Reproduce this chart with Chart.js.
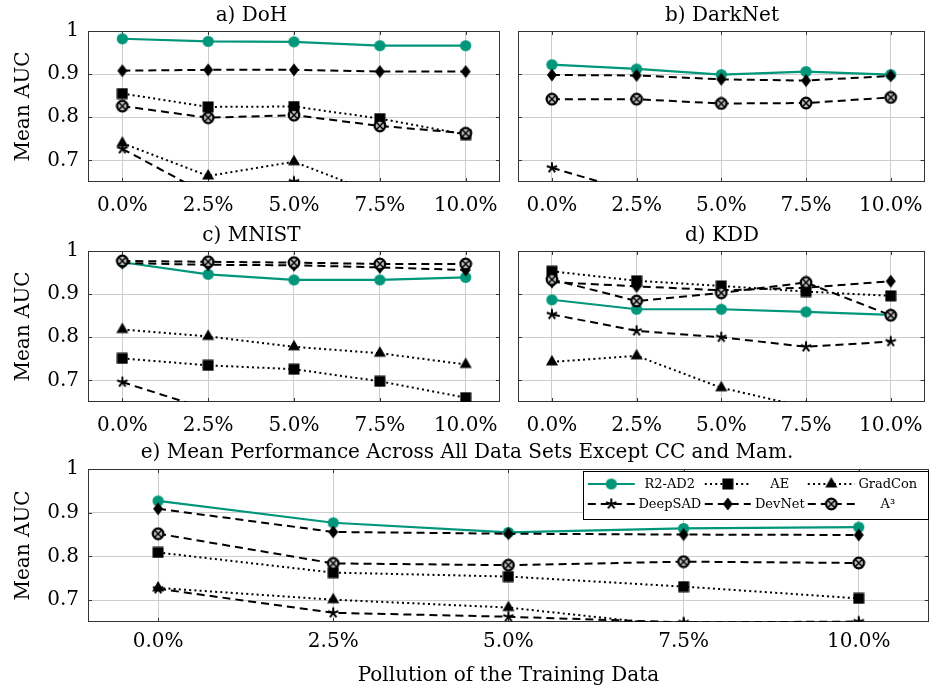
<!DOCTYPE html>
<html>
<head>
<meta charset="utf-8">
<script src="https://cdn.jsdelivr.net/npm/chart.js@4.4.1/dist/chart.umd.min.js"></script>
<style>
  body { margin: 0; background: #fff; }
  #wrap { position: relative; width: 935px; height: 691px; }
  .box { position: absolute; }
</style>
</head>
<body>
<div id="wrap">
  <div class="box" style="left:0;top:0;width:510px;height:215px"><canvas id="doh"></canvas></div>
  <div class="box" style="left:510px;top:0;width:425px;height:215px"><canvas id="darknet"></canvas></div>
  <div class="box" style="left:0;top:220px;width:510px;height:215px"><canvas id="mnist"></canvas></div>
  <div class="box" style="left:510px;top:220px;width:425px;height:215px"><canvas id="kdd"></canvas></div>
  <div class="box" style="left:0;top:435px;width:935px;height:256px"><canvas id="mean"></canvas></div>
</div>
<script>
// x positions (pollution %) and axis labels
const xValues = [0, 2.5, 5, 7.5, 10];
const xTickLabels = ['0.0%', '2.5%', '5.0%', '7.5%', '10.0%'];
const yTicks = [0.7, 0.8, 0.9, 1];
const yTickLabels = ['0.7', '0.8', '0.9', '1'];
const methods = ['R2-AD2', 'AE', 'GradCon', 'DeepSAD', 'DevNet', 'A³'];

// a) DoH
const dohR2AD2  = [0.982, 0.976, 0.975, 0.966, 0.966];
const dohAE     = [0.855, 0.824, 0.825, 0.797, 0.760];
const dohGrad   = [0.740, 0.664, 0.697, 0.620, null];
const dohDSAD   = [0.727, 0.620, 0.651, 0.615, null];
const dohDevNet = [0.908, 0.910, 0.910, 0.906, 0.906];
const dohA3     = [0.826, 0.799, 0.805, 0.780, 0.763];

// b) DarkNet
const darkR2AD2  = [0.922, 0.912, 0.899, 0.906, 0.899];
const darkAE     = [null, null, null, null, null];
const darkGrad   = [null, null, null, null, null];
const darkDSAD   = [0.683, 0.625, null, null, null];
const darkDevNet = [0.898, 0.897, 0.888, 0.885, 0.896];
const darkA3     = [0.842, 0.842, 0.832, 0.833, 0.846];

// c) MNIST
const mnistR2AD2  = [0.974, 0.946, 0.933, 0.933, 0.939];
const mnistAE     = [0.751, 0.735, 0.726, 0.698, 0.660];
const mnistGrad   = [0.818, 0.802, 0.778, 0.763, 0.737];
const mnistDSAD   = [0.696, 0.633, null, null, null];
const mnistDevNet = [0.972, 0.968, 0.967, 0.962, 0.956];
const mnistA3     = [0.977, 0.975, 0.973, 0.970, 0.970];

// d) KDD
const kddR2AD2  = [0.887, 0.865, 0.865, 0.859, 0.852];
const kddAE     = [0.953, 0.931, 0.919, 0.906, 0.896];
const kddGrad   = [0.743, 0.757, 0.683, 0.638, null];
const kddDSAD   = [0.853, 0.815, 0.800, 0.778, 0.790];
const kddDevNet = [0.928, 0.918, 0.909, 0.915, 0.930];
const kddA3     = [0.934, 0.884, 0.903, 0.927, 0.851];

// e) mean over data sets
const meanR2AD2  = [0.927, 0.877, 0.855, 0.864, 0.867];
const meanAE     = [0.809, 0.763, 0.754, 0.731, 0.704];
const meanGrad   = [0.728, 0.701, 0.683, 0.640, null];
const meanDSAD   = [0.726, 0.671, 0.662, 0.649, 0.651];
const meanDevNet = [0.909, 0.856, 0.852, 0.850, 0.849];
const meanA3     = [0.852, 0.784, 0.780, 0.788, 0.785];

const FONT = 'DejaVu Serif';
const teal = 'rgb(0,150,122)';

// marker images
function makeMarker(w, h, draw) {
  const c = document.createElement('canvas');
  c.width = w; c.height = h;
  draw(c.getContext('2d'), w / 2, h / 2);
  return c;
}
const markCircle = makeMarker(13, 13, (g, cx, cy) => {
  g.fillStyle = teal; g.beginPath(); g.arc(cx, cy, 5.6, 0, Math.PI * 2); g.fill();
});
const markSquare = makeMarker(12, 12, (g) => {
  g.fillStyle = '#000'; g.fillRect(0.5, 0.5, 11, 11);
});
const markTriangle = makeMarker(14, 16, (g, cx, cy) => {
  g.fillStyle = '#000'; g.beginPath();
  for (let k = 0; k < 3; k++) {
    const a = -Math.PI / 2 + k * 2 * Math.PI / 3;
    const px = cx + 7 * Math.cos(a), py = cy + 7 * Math.sin(a);
    if (k === 0) g.moveTo(px, py); else g.lineTo(px, py);
  }
  g.closePath(); g.fill();
});
const markStar = makeMarker(14, 14, (g, cx, cy) => {
  g.strokeStyle = '#000'; g.lineWidth = 2; g.beginPath();
  for (let k = 0; k < 5; k++) {
    const a = -Math.PI / 2 + k * 2 * Math.PI / 5;
    g.moveTo(cx, cy); g.lineTo(cx + 5.5 * Math.cos(a), cy + 5.5 * Math.sin(a));
  }
  g.stroke();
});
const markDiamond = makeMarker(12, 14, (g) => {
  g.fillStyle = '#000'; g.beginPath();
  g.moveTo(6, 0.5); g.lineTo(11, 7); g.lineTo(6, 13.5); g.lineTo(1, 7); g.closePath(); g.fill();
});
const markOtimes = makeMarker(14, 14, (g, cx, cy) => {
  g.fillStyle = '#bdbdbd'; g.strokeStyle = '#000'; g.lineWidth = 2.2;
  g.beginPath(); g.arc(cx, cy, 5.3, 0, Math.PI * 2); g.fill(); g.stroke();
  g.lineWidth = 1.4; g.beginPath();
  g.moveTo(cx - 3.4, cy - 3.4); g.lineTo(cx + 3.4, cy + 3.4);
  g.moveTo(cx + 3.4, cy - 3.4); g.lineTo(cx - 3.4, cy + 3.4);
  g.stroke();
});

const styles = [
  { color: teal,   width: 2.2, dash: [],       mark: markCircle },
  { color: '#000', width: 2,   dash: [2, 3.2], mark: markSquare },
  { color: '#000', width: 2,   dash: [2, 3.2], mark: markTriangle },
  { color: '#000', width: 2,   dash: [8, 5],   mark: markStar },
  { color: '#000', width: 2,   dash: [8, 5],   mark: markDiamond },
  { color: '#000', width: 2,   dash: [8, 5],   mark: markOtimes }
];

// frame around the plot area with inward ticks
const framePlugin = {
  id: 'frame',
  beforeDatasetsDraw(chart) {
    const { ctx, chartArea: a } = chart;
    ctx.save();
    ctx.strokeStyle = '#333';
    ctx.lineWidth = 1;
    ctx.beginPath();
    chart.scales.x.ticks.forEach(t => {
      const px = Math.round(chart.scales.x.getPixelForValue(t.value)) + 0.5;
      ctx.moveTo(px, a.bottom); ctx.lineTo(px, a.bottom - 4);
      ctx.moveTo(px, a.top); ctx.lineTo(px, a.top + 4);
    });
    chart.scales.y.ticks.forEach(t => {
      const py = Math.round(chart.scales.y.getPixelForValue(t.value)) + 0.5;
      ctx.moveTo(a.left, py); ctx.lineTo(a.left + 4, py);
      ctx.moveTo(a.right, py); ctx.lineTo(a.right - 4, py);
    });
    ctx.stroke();
    ctx.strokeRect(Math.round(a.left) + 0.5, Math.round(a.top) + 0.5,
                   Math.round(a.width) - 1, Math.round(a.height) - 1);
    ctx.restore();
  }
};

// legend table drawn inside the last panel
const legendPlugin = {
  id: 'tableLegend',
  afterDraw(chart) {
    const { ctx, chartArea: a } = chart;
    const bx = a.right - 346, by = a.top + 2, bw = 346, bh = 49;
    ctx.save();
    ctx.fillStyle = '#fff';
    ctx.fillRect(bx, by, bw, bh);
    ctx.strokeStyle = '#000'; ctx.lineWidth = 1;
    ctx.strokeRect(Math.round(bx) + 0.5, Math.round(by) + 0.5, bw - 1, bh - 1);
    const cols = [{ s: 5, e: 52, t: 87 }, { s: 122, e: 168, t: 197 }, { s: 225, e: 272, t: 305 }];
    ctx.font = '13px "' + FONT + '"';
    ctx.textAlign = 'center';
    ctx.textBaseline = 'middle';
    methods.forEach((m, k) => {
      const st = styles[k];
      const c = cols[k % 3];
      const y = by + (k < 3 ? 13 : 33);
      ctx.strokeStyle = st.color; ctx.lineWidth = st.width;
      ctx.setLineDash(st.dash);
      ctx.beginPath(); ctx.moveTo(bx + c.s, y); ctx.lineTo(bx + c.e, y); ctx.stroke();
      ctx.setLineDash([]);
      const mx = bx + (c.s + c.e) / 2;
      ctx.drawImage(st.mark, mx - st.mark.width / 2, y - st.mark.height / 2);
      ctx.fillStyle = '#000';
      ctx.fillText(m, bx + c.t, y + 1);
    });
    ctx.restore();
  }
};

function makeChart(id, title, series, o) {
  new Chart(document.getElementById(id), {
    type: 'line',
    data: {
      datasets: series.map((vals, k) => ({
        label: methods[k],
        data: xValues.map((x, i) => ({ x: x, y: vals[i] })),
        borderColor: styles[k].color,
        backgroundColor: styles[k].color,
        borderWidth: styles[k].width,
        borderDash: styles[k].dash,
        pointStyle: styles[k].mark,
        tension: 0,
        fill: false,
        order: 5 - k
      }))
    },
    options: {
      responsive: true,
      maintainAspectRatio: false,
      animation: false,
      events: [],
      layout: { padding: { left: 0, right: o.padRight, top: 0, bottom: 0 } },
      plugins: {
        legend: { display: false },
        tooltip: { enabled: false },
        title: {
          display: true, text: title, color: '#000',
          font: { family: FONT, size: 20, weight: 'normal', lineHeight: 1.2 },
          padding: o.titlePad
        }
      },
      scales: {
        x: {
          type: 'linear', min: -1, max: 11,
          afterBuildTicks: s => { s.ticks = xValues.map(v => ({ value: v })); },
          afterFit: s => { s.height = o.xHeight; },
          grid: { color: '#cccccc', drawTicks: false },
          border: { display: false },
          ticks: {
            color: '#000', font: { family: FONT, size: 20 }, padding: o.xPad,
            maxRotation: 0, autoSkip: false,
            callback: (v, i) => xTickLabels[i]
          },
          title: {
            display: !!o.xTitle, text: o.xTitle || '', color: '#000',
            font: { family: FONT, size: 20, lineHeight: 1.2 },
            padding: { top: 0, bottom: 3 }
          }
        },
        y: {
          min: 0.65, max: 1,
          afterBuildTicks: s => { s.ticks = yTicks.map(v => ({ value: v })); },
          afterFit: s => { s.width = o.yWidth; },
          grid: { color: '#cccccc', drawTicks: false },
          border: { display: false },
          ticks: {
            display: o.yLabels, color: '#000', font: { family: FONT, size: 20 }, padding: 9,
            callback: (v, i) => yTickLabels[i]
          },
          title: {
            display: o.yLabels, text: 'Mean AUC', color: '#000',
            font: { family: FONT, size: 20, lineHeight: 1.2 },
            padding: { top: 12, bottom: 0 }
          }
        }
      }
    },
    plugins: o.legend ? [framePlugin, legendPlugin] : [framePlugin]
  });
}

const leftOpts  = { padRight: 7, titlePad: { top: 4, bottom: 3 }, xHeight: 33, xPad: 12, yWidth: 88, yLabels: true };
const rightOpts = { padRight: 1, titlePad: { top: 4, bottom: 3 }, xHeight: 33, xPad: 12, yWidth: 8, yLabels: false };

makeChart('doh', 'a) DoH', [dohR2AD2, dohAE, dohGrad, dohDSAD, dohDevNet, dohA3], leftOpts);
makeChart('darknet', 'b) DarkNet', [darkR2AD2, darkAE, darkGrad, darkDSAD, darkDevNet, darkA3], rightOpts);
makeChart('mnist', 'c) MNIST', [mnistR2AD2, mnistAE, mnistGrad, mnistDSAD, mnistDevNet, mnistA3], leftOpts);
makeChart('kdd', 'd) KDD', [kddR2AD2, kddAE, kddGrad, kddDSAD, kddDevNet, kddA3], rightOpts);
makeChart('mean', 'e) Mean Performance Across All Data Sets Except CC and Mam.',
  [meanR2AD2, meanAE, meanGrad, meanDSAD, meanDevNet, meanA3],
  { padRight: 1, titlePad: { top: 6, bottom: 4 }, xHeight: 69, xPad: 8, yWidth: 88, yLabels: true,
    legend: true, xTitle: 'Pollution of the Training Data' });
</script>
</body>
</html>
